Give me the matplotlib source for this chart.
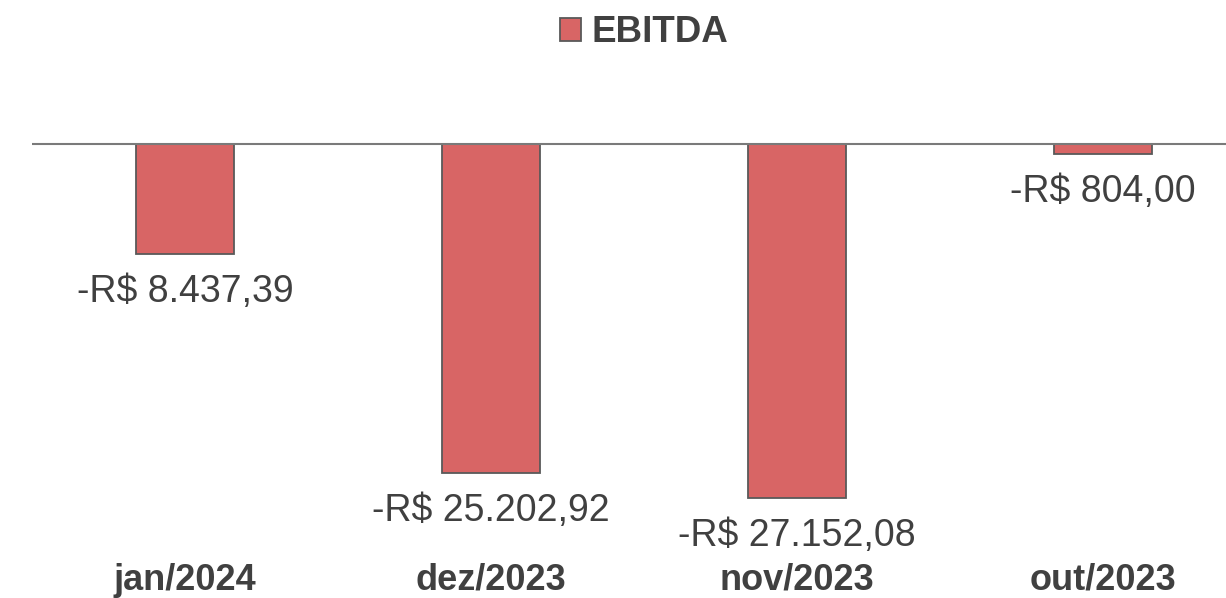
import matplotlib.pyplot as plt
from matplotlib.patches import Patch

months = ["jan/2024", "dez/2023", "nov/2023", "out/2023"]
ebitda = [-8437.39, -25202.92, -27152.08, -804.00]
value_labels = ["-R$ 8.437,39", "-R$ 25.202,92", "-R$ 27.152,08", "-R$ 804,00"]

W, H = 1226, 598
BAR_COLOR = "#D86565"
EDGE_COLOR = "#595959"
TEXT_COLOR = "#404040"

plt.rcParams["font.family"] = ["Liberation Sans", "DejaVu Sans"]

fig = plt.figure(figsize=(W / 100, H / 100), dpi=100)

# pixel layout: zero line at y=144, ~0.01305 px per unit
zero_px = 144
px_per_unit = 0.01305
ax_top_px = 100
ax_left_px = 32
ax_width_px = 1224
ax = fig.add_axes([ax_left_px / W, 0, ax_width_px / W, (H - ax_top_px) / H])
ax.set_xlim(-0.5, len(months) - 0.5)
ax.set_ylim(-(H - zero_px) / px_per_unit, (zero_px - ax_top_px) / px_per_unit)

x = range(len(months))
ax.bar(x, ebitda, width=0.317, color=BAR_COLOR, edgecolor=EDGE_COLOR,
       linewidth=1.3, zorder=2)
ax.axhline(0, color="#7a7a7a", linewidth=1.5, zorder=3)

for i, (v, lab) in enumerate(zip(ebitda, value_labels)):
    ax.annotate(lab, (i, v), xytext=(0, -20), textcoords="offset pixels",
                ha="center", va="top", fontsize=27, color=TEXT_COLOR)

# category labels sit at the very bottom of the picture
for i, m in enumerate(months):
    ax.text(i, (H - 590) / (H - ax_top_px), m, transform=ax.get_xaxis_transform(),
            ha="center", va="baseline", fontsize=26, fontweight="bold",
            color=TEXT_COLOR)

for s in ax.spines.values():
    s.set_visible(False)
ax.set_xticks([])
ax.set_yticks([])

handle = Patch(facecolor=BAR_COLOR, edgecolor=EDGE_COLOR, linewidth=1.3)
leg = fig.legend([handle], ["EBITDA"], loc="center", bbox_to_anchor=(644 / W, 1 - 33 / H),
                 frameon=False, handlelength=0.57, handleheight=0.57,
                 handletextpad=0.27, borderpad=0, borderaxespad=0,
                 prop={"size": 26.5, "weight": "bold"})
for t in leg.get_texts():
    t.set_color(TEXT_COLOR)

fig.savefig("out.png", dpi=100)
